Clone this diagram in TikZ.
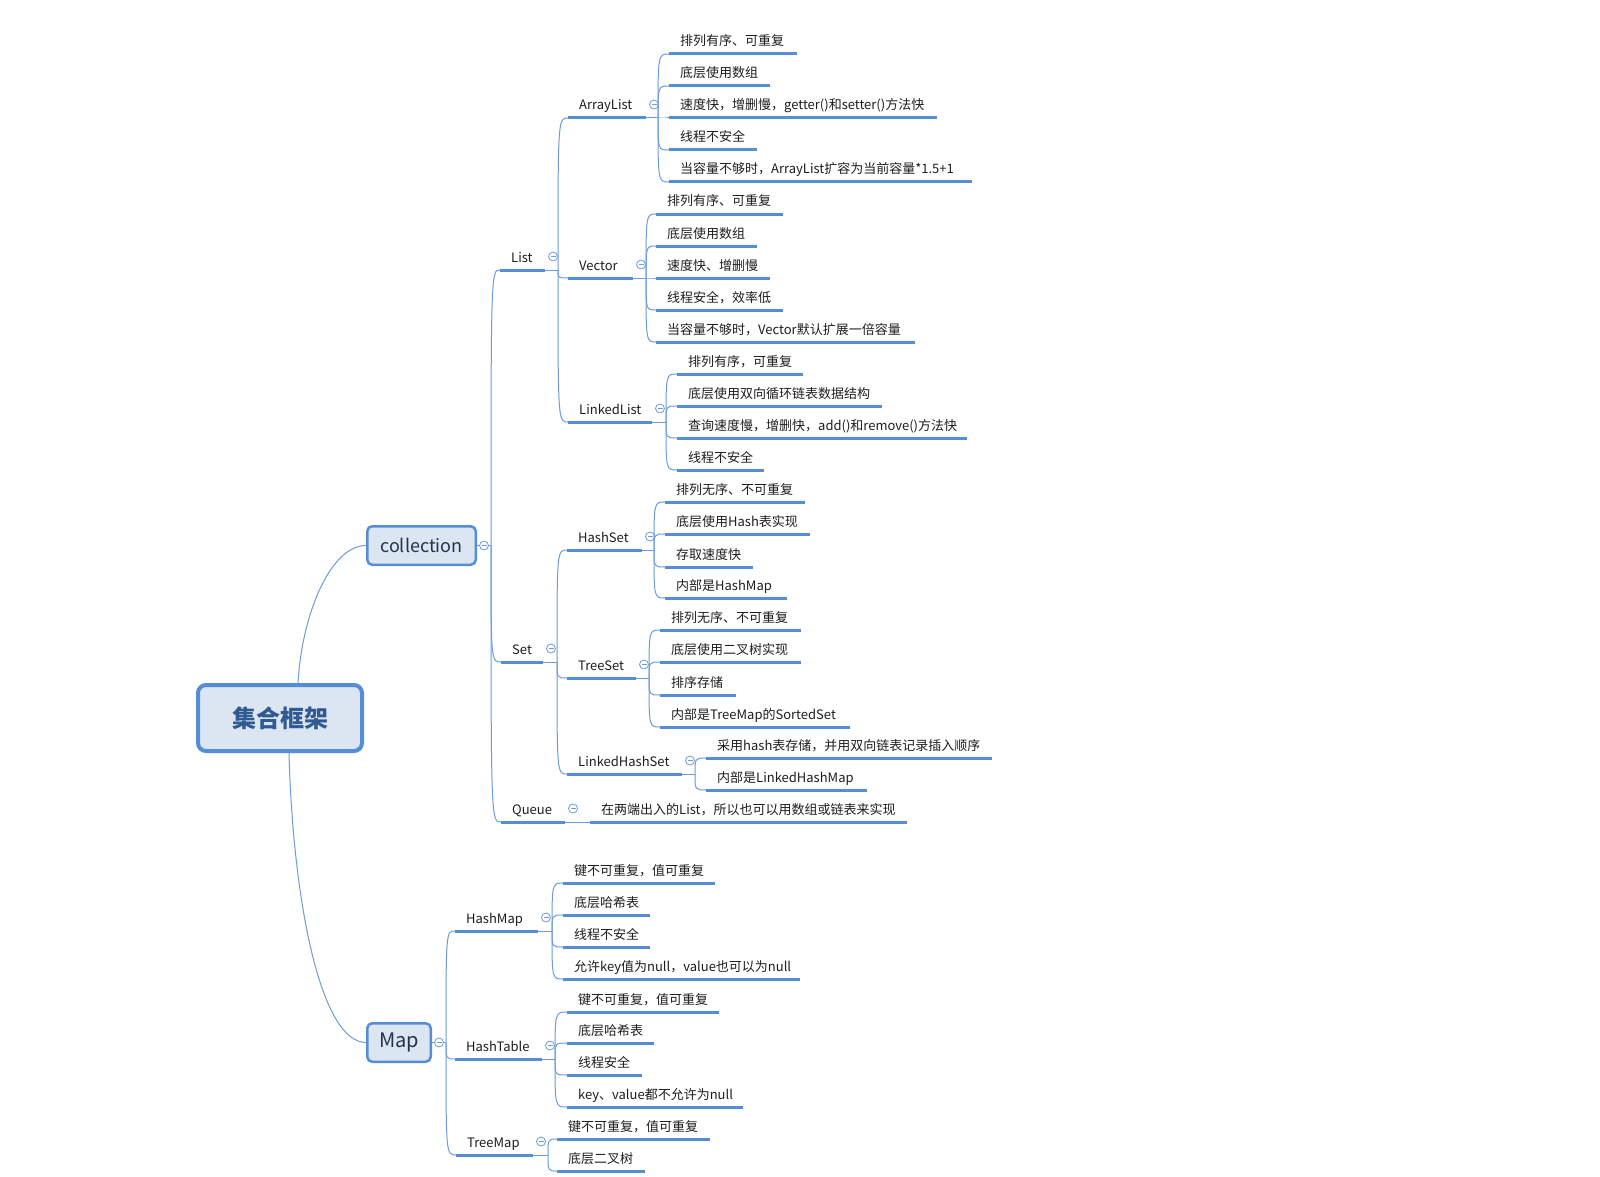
\documentclass[tikz,border=0pt]{standalone}
\usepackage{fontspec}
\setmainfont{Noto Sans CJK SC}
\usetikzlibrary{calc}
\definecolor{mmblue}{HTML}{558ED5}
\definecolor{mmthin}{HTML}{6C9CDB}
\definecolor{mmfill}{HTML}{DCE6F2}
\definecolor{mmroottext}{HTML}{2F5A92}
\definecolor{mmtext}{HTML}{1E1E1E}
\definecolor{mmboxtext}{HTML}{22324F}
\tikzset{
  uline/.style={draw=mmblue, line width=3pt, line cap=butt},
  conn/.style={draw=mmthin, line width=1pt},
  topictext/.style={anchor=base west, inner sep=0pt, text=mmtext, font=\fontsize{13}{15}\selectfont},
  collapse/.style={circle, draw=mmthin, fill=white, line width=0.8pt, minimum size=9pt, inner sep=0pt,
    path picture={\draw[mmthin, line width=0.8pt] ([xshift=-2.5pt]path picture bounding box.center) -- ([xshift=2.5pt]path picture bounding box.center);}},
  rootbox/.style={draw=mmblue, fill=mmfill, line width=4pt, rounded corners=8pt, text=mmroottext,
    font=\fontsize{24}{28}\selectfont\bfseries, inner sep=0pt},
  subbox/.style={draw=mmblue, fill=mmfill, line width=2.5pt, rounded corners=5pt, text=mmboxtext, inner sep=0pt},
}
% #1 name, #2 start x, #3 underline y, #4 end x, #5 text
\newcommand\mmtopic[5]{%
  \coordinate (#1-s) at (#2,#3);
  \coordinate (#1-e) at (#4,#3);
  \node[topictext] (#1) at (#2+11,#3-8) {#5};
  \draw[uline] (#1-s) -- (#1-e);
}
% hub topic: #6 junction x
\newcommand\mmhubtopic[6]{%
  \mmtopic{#1}{#2}{#3}{#4}{#5}%
  \coordinate (#1-j) at (#6,#3);
  \draw[conn] (#1-e) -- (#1-j);
  \node[collapse] (#1-c) at (#4+8,#3-13.5) {};
}
\newcommand\mmlink[2]{%
  \draw[conn] (#1-j) .. controls (#1-j |- #2-s) .. (#2-s);
}
\begin{document}
\begin{tikzpicture}[x=1pt,y=-1pt]
\fill[white] (0,0) rectangle (1600,1177);
\useasboundingbox (0,0) rectangle (1600,1177);

% main boxes
\node[rootbox, minimum width=164pt, minimum height=66pt] (root) at (280,718) {集合框架};
\node[subbox, minimum width=108.5pt, minimum height=38.5pt, font=\fontsize{18}{22}\selectfont] (collection) at (421.5,545.5) {collection};
\node[subbox, minimum width=63.5pt, minimum height=38.5pt, font=\fontsize{20}{24}\selectfont] (mapbox) at (399,1042.5) {Map};

\draw[conn] ([xshift=18pt]root.north) .. controls +(4,-70) and +(-35,0) .. (collection.west);
\draw[conn] ([xshift=9pt]root.south) .. controls +(4,150) and +(-45,0) .. (mapbox.west);

\coordinate (col-j) at (491,545.5);
\draw[conn] (collection.east) -- (col-j);
\coordinate (mapbox-j) at (446,1042.5);
\draw[conn] (mapbox.east) -- (mapbox-j);

% level 2
\mmhubtopic{List}{500}{270}{545}{List}{558}
\mmhubtopic{Set}{501}{662}{543}{Set}{557}
\mmtopic{Queue}{501}{822}{565}{Queue}
\node[collapse] (Queue-c) at (573,808.5) {};

\mmhubtopic{HashMap}{455}{931}{538}{HashMap}{552}
\mmhubtopic{HashTable}{455}{1059}{542}{HashTable}{555}
\mmhubtopic{TreeMap}{456}{1155}{533}{TreeMap}{548}

% level 3
\mmhubtopic{ArrayList}{568}{118}{646}{ArrayList}{658}
\mmhubtopic{Vector}{568}{278}{633}{Vector}{646}
\mmhubtopic{LinkedList}{568}{422}{652}{LinkedList}{666}
\mmhubtopic{HashSet}{567}{550}{642}{HashSet}{654}
\mmhubtopic{TreeSet}{567}{678}{636}{TreeSet}{649}
\mmhubtopic{LinkedHashSet}{567}{774}{682}{LinkedHashSet}{695}

% leaves
\mmtopic{a1}{669}{54}{797}{排列有序、可重复}
\mmtopic{a2}{669}{86}{770}{底层使用数组}
\mmtopic{a3}{669}{118}{937}{速度快，增删慢，getter()和setter()方法快}
\mmtopic{a4}{669}{150}{757}{线程不安全}
\mmtopic{a5}{669}{182}{972}{当容量不够时，ArrayList扩容为当前容量*1.5+1}

\mmtopic{v1}{656}{214}{783}{排列有序、可重复}
\mmtopic{v2}{656}{246}{757}{底层使用数组}
\mmtopic{v3}{656}{278}{770}{速度快、增删慢}
\mmtopic{v4}{656}{310}{783}{线程安全，效率低}
\mmtopic{v5}{656}{342}{915}{当容量不够时，Vector默认扩展一倍容量}

\mmtopic{l1}{677}{374}{803}{排列有序，可重复}
\mmtopic{l2}{677}{406}{882}{底层使用双向循环链表数据结构}
\mmtopic{l3}{677}{438}{967}{查询速度慢，增删快，add()和remove()方法快}
\mmtopic{l4}{677}{470}{764}{线程不安全}

\mmtopic{h1}{665}{502}{805}{排列无序、不可重复}
\mmtopic{h2}{665}{534}{810}{底层使用Hash表实现}
\mmtopic{h3}{665}{567}{753}{存取速度快}
\mmtopic{h4}{665}{598}{787}{内部是HashMap}

\mmtopic{t1}{660}{630}{801}{排列无序、不可重复}
\mmtopic{t2}{660}{662}{801}{底层使用二叉树实现}
\mmtopic{t3}{660}{695}{736}{排序存储}
\mmtopic{t4}{660}{727}{850}{内部是TreeMap的SortedSet}

\mmtopic{s1}{706}{758}{992}{采用hash表存储，并用双向链表记录插入顺序}
\mmtopic{s2}{706}{790}{867}{内部是LinkedHashMap}

\mmtopic{q1}{590}{822}{907}{在两端出入的List，所以也可以用数组或链表来实现}

\mmtopic{m1}{563}{883}{715}{键不可重复，值可重复}
\mmtopic{m2}{563}{915}{650}{底层哈希表}
\mmtopic{m3}{563}{947}{650}{线程不安全}
\mmtopic{m4}{563}{979}{800}{允许key值为null，value也可以为null}

\mmtopic{n1}{567}{1012}{719}{键不可重复，值可重复}
\mmtopic{n2}{567}{1043}{654}{底层哈希表}
\mmtopic{n3}{567}{1075}{642}{线程安全}
\mmtopic{n4}{567}{1107}{743}{key、value都不允许为null}

\mmtopic{r1}{557}{1139}{710}{键不可重复，值可重复}
\mmtopic{r2}{557}{1171}{645}{底层二叉树}

% connectors
\mmlink{col}{List}\mmlink{col}{Set}\mmlink{col}{Queue}
\mmlink{mapbox}{HashMap}\mmlink{mapbox}{HashTable}\mmlink{mapbox}{TreeMap}
\mmlink{List}{ArrayList}\mmlink{List}{Vector}\mmlink{List}{LinkedList}
\mmlink{Set}{HashSet}\mmlink{Set}{TreeSet}\mmlink{Set}{LinkedHashSet}
\draw[conn] (Queue-e) -- (q1-s);
\mmlink{ArrayList}{a1}\mmlink{ArrayList}{a2}\mmlink{ArrayList}{a3}\mmlink{ArrayList}{a4}\mmlink{ArrayList}{a5}
\mmlink{Vector}{v1}\mmlink{Vector}{v2}\mmlink{Vector}{v3}\mmlink{Vector}{v4}\mmlink{Vector}{v5}
\mmlink{LinkedList}{l1}\mmlink{LinkedList}{l2}\mmlink{LinkedList}{l3}\mmlink{LinkedList}{l4}
\mmlink{HashSet}{h1}\mmlink{HashSet}{h2}\mmlink{HashSet}{h3}\mmlink{HashSet}{h4}
\mmlink{TreeSet}{t1}\mmlink{TreeSet}{t2}\mmlink{TreeSet}{t3}\mmlink{TreeSet}{t4}
\mmlink{LinkedHashSet}{s1}\mmlink{LinkedHashSet}{s2}
\mmlink{HashMap}{m1}\mmlink{HashMap}{m2}\mmlink{HashMap}{m3}\mmlink{HashMap}{m4}
\mmlink{HashTable}{n1}\mmlink{HashTable}{n2}\mmlink{HashTable}{n3}\mmlink{HashTable}{n4}
\mmlink{TreeMap}{r1}\mmlink{TreeMap}{r2}

% collapse markers on boxes
\node[collapse] (collection-c) at (484,545.5) {};
\node[collapse] (mapbox-c) at (439,1042.5) {};
\end{tikzpicture}
\end{document}
